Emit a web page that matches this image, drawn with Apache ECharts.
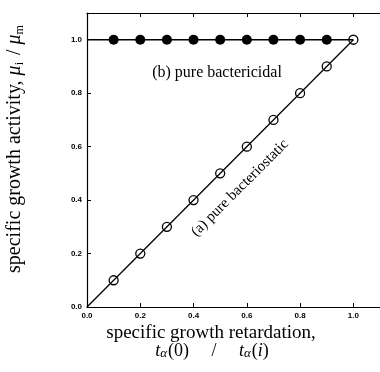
<!DOCTYPE html>
<html><head><meta charset="utf-8">
<script src="https://cdn.jsdelivr.net/npm/echarts@6/dist/echarts.min.js"></script>
<style>html,body{margin:0;padding:0;background:#fff}#c{width:380px;height:372px}</style>
</head><body><div id="c"></div>
<script>
const xTicks = [0, 0.2, 0.4, 0.6, 0.8, 1.0];
const yTicks = [0, 0.2, 0.4, 0.6, 0.8, 1.0];
const cidalX = [0.1, 0.2, 0.3, 0.4, 0.5, 0.6, 0.7, 0.8, 0.9];
const cidalY = [1.0, 1.0, 1.0, 1.0, 1.0, 1.0, 1.0, 1.0, 1.0];
const cidalLineX = [0, 1.0];
const cidalLineY = [1.0, 1.0];
const staticX = [0.1, 0.2, 0.3, 0.4, 0.5, 0.6, 0.7, 0.8, 0.9, 1.0];
const staticY = [0.1, 0.2, 0.3, 0.4, 0.5, 0.6, 0.7, 0.8, 0.9, 1.0];
const staticLineX = [0, 1.0];
const staticLineY = [0, 1.0];

const zip = (a, b) => a.map((v, i) => [v, b[i]]);
const chart = echarts.init(document.getElementById('c'), null, {renderer: 'canvas'});
const lab = {fontFamily: 'Liberation Sans, Arial', fontWeight: 'bold', fontSize: 8, color: '#000'};
const axLine = {show: true, onZero: false, lineStyle: {color: '#000', width: 1.2}};
const tick = {show: true, inside: true, length: 4, lineStyle: {color: '#000', width: 1}};
const fmtX = v => (xTicks.indexOf(+v.toFixed(1)) >= 0 ? v.toFixed(1) : '');
const fmtY = v => (yTicks.indexOf(+v.toFixed(1)) >= 0 ? v.toFixed(1) : '');
chart.setOption({
  animation: false,
  grid: {left: 87, right: -5, top: 13, bottom: 65},
  xAxis: [
    {type: 'value', min: 0, max: 1.1, interval: 0.2, axisLine: axLine, axisTick: tick,
     splitLine: {show: false}, axisLabel: Object.assign({formatter: fmtX, margin: 5, showMaxLabel: false}, lab)},
    {type: 'value', position: 'top', min: 0, max: 1.1, interval: 0.2, axisLine: axLine, axisTick: tick,
     splitLine: {show: false}, axisLabel: {show: false}}
  ],
  yAxis: [
    {type: 'value', min: 0, max: 1.1, interval: 0.2, axisLine: axLine, axisTick: tick,
     splitLine: {show: false}, axisLabel: Object.assign({formatter: fmtY, margin: 5, showMaxLabel: false}, lab)}
  ],
  series: [
    {type: 'line', data: zip(cidalLineX, cidalLineY), showSymbol: false, lineStyle: {color: '#000', width: 1.3}, z: 1},
    {type: 'line', data: zip(staticLineX, staticLineY), showSymbol: false, lineStyle: {color: '#000', width: 1.3}, z: 1},
    {type: 'scatter', data: zip(cidalX, cidalY), symbol: 'circle', symbolSize: 10,
     itemStyle: {color: '#000', opacity: 1}, z: 3},
    {type: 'scatter', data: zip(staticX, staticY), symbol: 'circle', symbolSize: 9,
     itemStyle: {color: 'rgba(0,0,0,0)', borderColor: '#000', borderWidth: 1.3, opacity: 1}, z: 3}
  ],
  graphic: [
    {type: 'text', x: 217, y: 73, style: {text: '(b) pure bactericidal', font: '16px "Liberation Serif", serif', fill: '#000', align: 'center', verticalAlign: 'middle'}},
    {type: 'text', x: 240, y: 188, rotation: 45 * Math.PI / 180, style: {text: '(a) pure bacteriostatic', font: '15px "Liberation Serif", serif', fill: '#000', align: 'center', verticalAlign: 'middle'}},
    {type: 'text', x: 15, y: 148, rotation: Math.PI / 2, style: {
      text: '{n|specific growth activity, }{i|μ}{s|i}{n| / }{i|μ}{s|m}',
      rich: {
        n: {font: '20px "Liberation Serif", serif', fill: '#000'},
        i: {font: 'italic 20px "Liberation Serif", serif', fill: '#000'},
        s: {font: '12px "Liberation Serif", serif', fill: '#000', padding: [9, 2, 0, 0]}
      }, align: 'center', verticalAlign: 'middle'}},
    {type: 'text', x: 211, y: 333, style: {text: 'specific growth retardation,', font: '19px "Liberation Serif", serif', fill: '#000', align: 'center', verticalAlign: 'middle'}},
    {type: 'text', x: 212, y: 351, style: {
      text: '{i|t}{s|α}{n|(0)     /     }{i|t}{s|α}{n|(}{i|i}{n|)}',
      rich: {
        n: {font: '18px "Liberation Serif", serif', fill: '#000'},
        i: {font: 'italic 18px "Liberation Serif", serif', fill: '#000'},
        s: {font: 'italic 13px "Liberation Serif", serif', fill: '#000', padding: [6, 1, 0, 0]}
      }, align: 'center', verticalAlign: 'middle'}}
  ]
});
</script></body></html>
